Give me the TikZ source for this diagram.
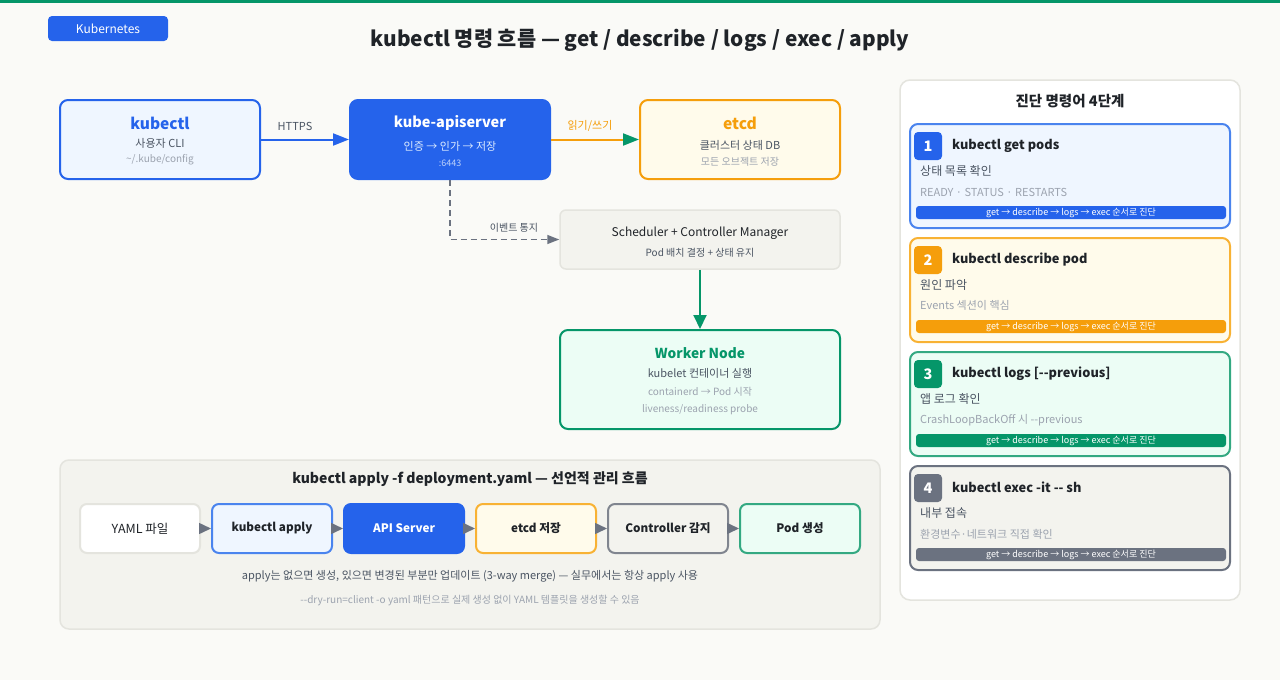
\documentclass[tikz,border=0pt]{standalone}
\usepackage{fontspec}
\setmainfont{Noto Sans CJK KR}
\usetikzlibrary{arrows.meta}
\definecolor{bg}{HTML}{FAFAF7}
\definecolor{kblue}{HTML}{2563EB}
\definecolor{kbluel}{HTML}{EFF6FF}
\definecolor{kbluem}{HTML}{4A84EE}
\definecolor{korange}{HTML}{F59E0B}
\definecolor{korangel}{HTML}{FFFBEB}
\definecolor{korangem}{HTML}{F8B234}
\definecolor{kgreen}{HTML}{059669}
\definecolor{kgreenl}{HTML}{ECFDF5}
\definecolor{kgreenm}{HTML}{34A982}
\definecolor{kgray}{HTML}{6B7280}
\definecolor{kgraym}{HTML}{80858F}
\definecolor{panel}{HTML}{F3F3EE}
\definecolor{kborder}{HTML}{E4E4DE}
\definecolor{tdark}{HTML}{1F2328}
\definecolor{tmid}{HTML}{4B5563}
\definecolor{tlight}{HTML}{9CA3AF}
\definecolor{tapi}{HTML}{DBEAFE}
\definecolor{tapil}{HTML}{BFD3FB}
\newcommand\fsz[1]{\fontsize{#1}{#1}\selectfont}
\begin{document}
\begin{tikzpicture}[x=1pt,y=-1pt,
  box/.style={draw, line width=2pt, rounded corners=8pt, inner sep=0pt},
  txt/.style={inner sep=0pt, anchor=center},
  ltxt/.style={inner sep=0pt, anchor=west},
  flowbox/.style={draw, line width=2pt, rounded corners=7pt, minimum width=120pt, minimum height=49pt, inner sep=0pt, font=\fsz{11.7}\bfseries, text=tdark},
  card/.style={draw, line width=2pt, rounded corners=8pt, minimum width=320pt, minimum height=104pt, inner sep=0pt},
  badge/.style={rounded corners=4pt, minimum width=28pt, minimum height=28pt, inner sep=0pt, text=white, font=\fsz{14.5}\bfseries},
  bar/.style={rounded corners=3pt, minimum width=310pt, minimum height=13pt, inner sep=0pt, text=white, font=\fsz{9}},
  ctitle/.style={inner sep=0pt, anchor=west, font=\fsz{12.8}\bfseries, text=tdark},
  flowarrow/.style={kgray, line width=1.5pt, -{Triangle[length=12pt,width=11pt]}}
]
\useasboundingbox (0,0) rectangle (1280,680);
\fill[bg] (0,0) rectangle (1280,680);
\fill[kgreen] (0,0) rectangle (1280,3);

% header
\node[fill=kblue, rounded corners=4pt, minimum width=120pt, minimum height=25pt, inner sep=0pt, text=white, font=\fsz{12}] (badge) at (108,28.5) {Kubernetes};
\node[txt, font=\fsz{20.8}\bfseries, text=tdark] (title) at (640,40.5) {kubectl 명령 흐름 — get / describe / logs / exec / apply};

% top row
\node[box, draw=kblue, fill=kbluel, minimum width=200pt, minimum height=79pt] (kubectl) at (160,139.5) {};
\node[txt, font=\fsz{15.5}\bfseries, text=kblue] (kubectlT) at (160,123) {kubectl};
\node[txt, font=\fsz{11}, text=tmid] (kubectlS) at (160,143) {사용자 CLI};
\node[txt, font=\fsz{10}, text=tlight] (kubectlD) at (160,160) {\textasciitilde/.kube/config};

\node[box, draw=kblue, fill=kblue, minimum width=200pt, minimum height=79pt] (api) at (450,139.5) {};
\node[txt, font=\fsz{14.5}\bfseries, text=white] (apiT) at (450,123) {kube-apiserver};
\node[txt, font=\fsz{11}, text=tapi] (apiS) at (450,146) {인증 → 인가 → 저장};
\node[txt, font=\fsz{9}, text=tapil] (apiD) at (450,163) {:6443};

\node[box, draw=korange, fill=korangel, minimum width=200pt, minimum height=79pt] (etcd) at (740,139.5) {};
\node[txt, font=\fsz{15.6}\bfseries, text=korange] (etcdT) at (740,123) {etcd};
\node[txt, font=\fsz{11}, text=tmid] (etcdS) at (740,145) {클러스터 상태 DB};
\node[txt, font=\fsz{10}, text=tlight] (etcdD) at (740,162) {모든 오브젝트 저장};

\draw[kblue, line width=2pt, -{Triangle[length=16pt,width=12pt]}] (kubectl.east) -- (api.west);
\node[txt, font=\fsz{11}, text=tmid] (httpsL) at (295,126) {HTTPS};
\draw[korange, line width=2pt, -{Triangle[length=16pt,width=12pt,color=kgreen]}] (api.east) -- (etcd.west);
\node[txt, font=\fsz{11}, text=korange] (rwL) at (590,126) {읽기/쓰기};

% scheduler
\node[draw=kborder, fill=panel, line width=1.5pt, rounded corners=6pt, minimum width=280pt, minimum height=59pt, inner sep=0pt] (sched) at (700,239.5) {};
\node[txt, font=\fsz{12}, text=tdark] (schedT) at (700,233) {Scheduler + Controller Manager};
\node[txt, font=\fsz{10}, text=tmid] (schedS) at (700,253) {Pod 배치 결정 + 상태 유지};
\draw[kgray, line width=1.5pt, dash pattern=on 6pt off 4pt, -{Triangle[length=12pt,width=9pt]}] (api.south) |- (sched.west);
\node[txt, font=\fsz{10}, text=tmid] (evL) at (514,228) {이벤트 통지};

% worker
\node[box, draw=kgreen, fill=kgreenl, minimum width=280pt, minimum height=99pt] (worker) at (700,379.5) {};
\node[txt, font=\fsz{13.7}\bfseries, text=kgreen] (workerT) at (700,353) {Worker Node};
\node[txt, font=\fsz{11}, text=tmid] (workerS) at (700,373) {kubelet 컨테이너 실행};
\node[txt, font=\fsz{10}, text=tlight] (workerD1) at (700,392) {containerd → Pod 시작};
\node[txt, font=\fsz{10}, text=tlight] (workerD2) at (700,410) {liveness/readiness probe};
\draw[kgreen, line width=2pt, -{Triangle[length=14pt,width=13pt]}] (sched.south) -- (worker.north);

% apply panel
\node[draw=kborder, fill=panel, line width=1.5pt, rounded corners=9pt, minimum width=820pt, minimum height=169pt, inner sep=0pt] (applyP) at (470,544.5) {};
\node[txt, font=\fsz{14}\bfseries, text=tdark] (applyT) at (470,479) {kubectl apply -f deployment.yaml — 선언적 관리 흐름};
\node[flowbox, draw=kborder, fill=white, font=\fsz{12.5}] (f1) at (140,528.5) {YAML 파일};
\node[flowbox, draw=kbluem, fill=kbluel] (f2) at (272,528.5) {kubectl apply};
\node[flowbox, draw=kblue, fill=kblue, text=white] (f3) at (404,528.5) {API Server};
\node[flowbox, draw=korangem, fill=korangel] (f4) at (536,528.5) {etcd 저장};
\node[flowbox, draw=kgraym, fill=panel] (f5) at (668,528.5) {Controller 감지};
\node[flowbox, draw=kgreenm, fill=kgreenl] (f6) at (800,528.5) {Pod 생성};
\draw[flowarrow] (f1) -- (f2);
\draw[flowarrow] (f2) -- (f3);
\draw[flowarrow] (f3) -- (f4);
\draw[flowarrow] (f4) -- (f5);
\draw[flowarrow] (f5) -- (f6);
\node[txt, font=\fsz{11}, text=tmid] (applyN1) at (470,576) {apply는 없으면 생성, 있으면 변경된 부분만 업데이트 (3-way merge) — 실무에서는 항상 apply 사용};
\node[txt, font=\fsz{10}, text=tlight] (applyN2) at (470,600) {-{}-dry-run=client -o yaml 패턴으로 실제 생성 없이 YAML 템플릿을 생성할 수 있음};

% right panel
\node[draw=kborder, fill=white, line width=1.5pt, rounded corners=10pt, minimum width=340pt, minimum height=520pt, inner sep=0pt] (diag) at (1070,340) {};
\node[txt, font=\fsz{14.5}\bfseries, text=tdark] (diagT) at (1070,101) {진단 명령어 4단계};

% card 1
\node[card, draw=kbluem, fill=kbluel] (c1) at (1070,176) {};
\node[badge, fill=kblue] (b1) at (928,146) {1};
\node[ctitle] (c1T) at (952,145.5) {kubectl get pods};
\node[ltxt, font=\fsz{12}, text=tmid] (c1S) at (920,171) {상태 목록 확인};
\node[ltxt, font=\fsz{11}, text=tlight] (c1D) at (920,192) {READY · STATUS · RESTARTS};
\node[bar, fill=kblue] (r1) at (1071,212.5) {get → describe → logs → exec 순서로 진단};

% card 2
\node[card, draw=korangem, fill=korangel] (c2) at (1070,290) {};
\node[badge, fill=korange] (b2) at (928,260) {2};
\node[ctitle] (c2T) at (952,259.5) {kubectl describe pod};
\node[ltxt, font=\fsz{12}, text=tmid] (c2S) at (920,285) {원인 파악};
\node[ltxt, font=\fsz{11}, text=tlight] (c2D) at (920,305) {Events 섹션이 핵심};
\node[bar, fill=korange] (r2) at (1071,326.5) {get → describe → logs → exec 순서로 진단};

% card 3
\node[card, draw=kgreenm, fill=kgreenl] (c3) at (1070,404) {};
\node[badge, fill=kgreen] (b3) at (928,374) {3};
\node[ctitle] (c3T) at (952,373.5) {kubectl logs [-{}-previous]};
\node[ltxt, font=\fsz{12}, text=tmid] (c3S) at (920,399) {앱 로그 확인};
\node[ltxt, font=\fsz{11}, text=tlight] (c3D) at (920,420) {CrashLoopBackOff 시 -{}-previous};
\node[bar, fill=kgreen] (r3) at (1071,440.5) {get → describe → logs → exec 순서로 진단};

% card 4
\node[card, draw=kgray, fill=panel] (c4) at (1070,518) {};
\node[badge, fill=kgray] (b4) at (928,488) {4};
\node[ctitle] (c4T) at (952,487.5) {kubectl exec -it -{}- sh};
\node[ltxt, font=\fsz{12}, text=tmid] (c4S) at (920,513) {내부 접속};
\node[ltxt, font=\fsz{11}, text=tlight] (c4D) at (920,534) {환경변수·네트워크 직접 확인};
\node[bar, fill=kgray] (r4) at (1071,554.5) {get → describe → logs → exec 순서로 진단};
\end{tikzpicture}
\end{document}
